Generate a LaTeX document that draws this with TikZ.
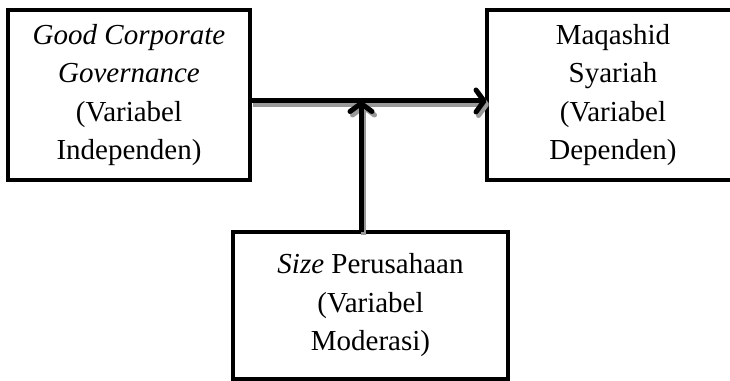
\documentclass[tikz,border=0pt]{standalone}
\usepackage{fontspec}
\setmainfont{Liberation Serif}
\usetikzlibrary{arrows.meta}

\begin{document}
\begin{tikzpicture}[x=10pt, y=10pt,
    >={Straight Barb[length=8pt, width=22pt, line cap=round, line join=round]},
    every node/.style={font=\fontsize{29}{38.5}\selectfont},
    varbox/.style={draw, line width=4pt, fill=white, align=center, inner sep=0pt, outer sep=0pt},
    link/.style={->, line width=5pt},
    linkshadow/.style={link, black!40, transform canvas={shift={(2.5pt,-3.5pt)}}}]
  \useasboundingbox (0, 0) rectangle (73, 38);
  % variables
  \node[varbox, minimum width=242pt, minimum height=170pt] (gcg) at (12.9, 28.5)
    {\textit{Good Corporate}\\\textit{Governance}\\(Variabel\\Independen)};
  \node[varbox, minimum width=253pt, minimum height=170pt] (ms) at (61.3, 28.5)
    {Maqashid\\Syariah\\(Variabel\\Dependen)};
  \node[varbox, minimum width=275pt, minimum height=147pt] (sz) at (37.05, 7.45)
    {\textit{Size} Perusahaan\\(Variabel\\Moderasi)};
  \coordinate (mid) at (36.1, 27.9);
  % shadows, then arrows
  \draw[linkshadow] (gcg.east |- mid) -- (ms.west |- mid);
  \draw[linkshadow] (sz.north -| mid) -- (mid);
  \draw[link] (gcg.east |- mid) -- (ms.west |- mid);
  \draw[link] (sz.north -| mid) -- (mid);
\end{tikzpicture}
\end{document}
